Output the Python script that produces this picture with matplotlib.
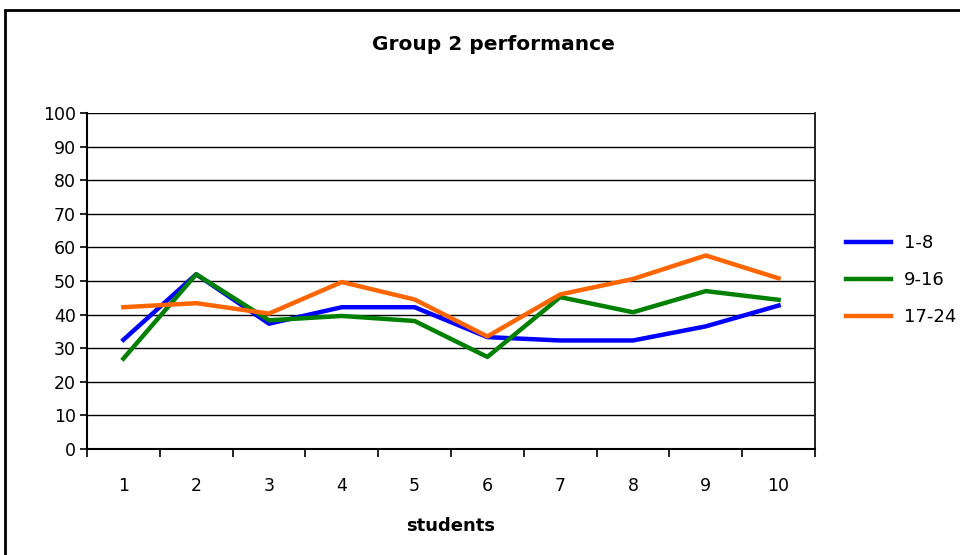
import matplotlib.pyplot as plt
from matplotlib.patches import Rectangle

students = [1, 2, 3, 4, 5, 6, 7, 8, 9, 10]
group_1_8 = [32.5, 52, 37.3, 42.2, 42.2, 33.3, 32.3, 32.3, 36.5, 42.7]
group_9_16 = [26.9, 52, 38.3, 39.6, 38.1, 27.4, 45.2, 40.7, 47, 44.4]
group_17_24 = [42.2, 43.4, 40.3, 49.7, 44.5, 33.5, 46, 50.6, 57.6, 50.8]
series_labels = ['1-8', '9-16', '17-24']
colors = ['#0000ff', '#008000', '#ff6600']

plt.rcParams['font.family'] = ['DejaVu Sans']

W, H = 960, 555
fig = plt.figure(figsize=(W / 100, H / 100), dpi=100)
ax = fig.add_axes([87 / W, 1 - 449 / H, (815 - 87) / W, (449 - 113) / H])

# outer chart border (runs off the right and bottom edges)
fig.patches.append(Rectangle((5 / W, -0.1), 1.2, 1 - 10 / H + 0.1,
                             transform=fig.transFigure, fill=False,
                             edgecolor='black', lw=2, zorder=0))

for vals, lab, c in zip([group_1_8, group_9_16, group_17_24], series_labels, colors):
    ax.plot(students, vals, color=c, lw=3.2, label=lab, zorder=3)

ax.set_xlim(0.5, 10.5)
ax.set_ylim(0, 100)
ax.set_yticks(range(0, 101, 10))
ax.set_xticks(students)
ax.set_xticks([s + 0.5 for s in [0] + students], minor=True)
ax.tick_params(axis='x', which='major', length=0, pad=20, labelsize=12.5)
ax.tick_params(axis='x', which='minor', length=6, width=1.2, direction='out')
ax.tick_params(axis='y', length=5, width=1.2, direction='out', labelsize=12.5, pad=3)
ax.grid(axis='y', color='black', lw=1)
ax.set_axisbelow(True)
for side in ['left', 'bottom']:
    ax.spines[side].set_linewidth(1.5)
ax.spines['top'].set_visible(False)
ax.spines['right'].set_linewidth(1.2)

ax.set_xlabel('students', fontsize=13, fontweight='bold', labelpad=16)
fig.text(493 / W, 1 - 44 / H, 'Group 2 performance', ha='center', va='center',
         fontsize=14.5, fontweight='bold')

ax.legend(loc='center left', bbox_to_anchor=(830 / W, 1 - 280 / H),
          bbox_transform=fig.transFigure, frameon=False, fontsize=13,
          handlelength=2.5, labelspacing=1.05, handletextpad=0.7)

fig.savefig('out.png', dpi=100)
